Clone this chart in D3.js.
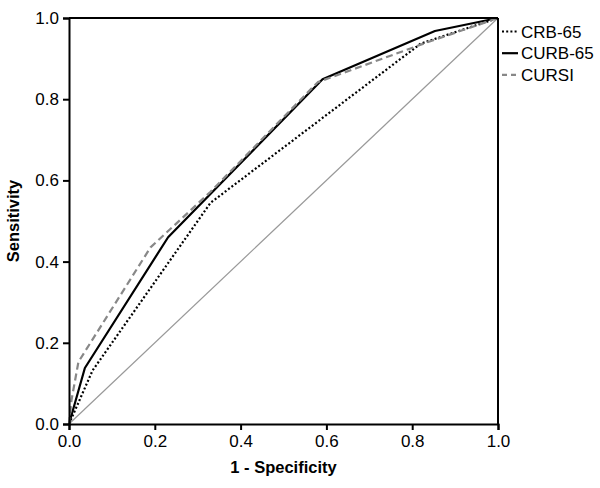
<!DOCTYPE html>
<html><head><meta charset="utf-8">
<script src="https://cdn.jsdelivr.net/npm/d3@7"></script>
<style>body{margin:0;background:#fff}svg{display:block}text{font-family:"Liberation Sans",Arial,sans-serif}</style>
</head><body>
<script>
const ticks = [0, 0.2, 0.4, 0.6, 0.8, 1.0];
const seriesNames = ["CRB-65", "CURB-65", "CURSI"];
const crb65 = [[0,0],[0.055,0.132],[0.33,0.545],[0.82,0.937],[1,1]];
const curb65 = [[0,0],[0.037,0.138],[0.231,0.46],[0.591,0.849],[0.853,0.968],[1,1]];
const cursi = [[0,0],[0.006,0.06],[0.022,0.153],[0.19,0.435],[0.33,0.572],[0.58,0.842],[0.835,0.94],[1,1]];
const refLine = [[0,0],[1,1]];

const W = 600, H = 488;
const m = {l:69, r:102, t:18, b:64};
const svg = d3.select("body").append("svg").attr("width", W).attr("height", H);
const x = d3.scaleLinear().domain([0,1]).range([m.l, W - m.r]);
const y = d3.scaleLinear().domain([0,1]).range([H - m.b, m.t]);
const line = d3.line().x(d => x(d[0])).y(d => y(d[1]));

// reference diagonal
svg.append("path").datum(refLine).attr("d", line).attr("fill","none").attr("stroke","#999").attr("stroke-width",1.2);

const styles = {
  "CRB-65": {data: crb65, color:"#000", dash:"2,2.2", w:2.2},
  "CURB-65": {data: curb65, color:"#000", dash:null, w:2.2},
  "CURSI": {data: cursi, color:"#888", dash:"7,4", w:2.2}
};
seriesNames.forEach(n => {
  const s = styles[n];
  svg.append("path").datum(s.data).attr("d", line).attr("fill","none")
    .attr("stroke", s.color).attr("stroke-width", s.w)
    .attr("stroke-dasharray", s.dash).attr("stroke-linejoin","round");
});

// box top/right
svg.append("line").attr("x1", x(0)).attr("x2", x(1)).attr("y1", y(1)).attr("y2", y(1)).attr("stroke","#000").attr("stroke-width",2);
svg.append("line").attr("x1", x(1)).attr("x2", x(1)).attr("y1", y(0)).attr("y2", y(1)).attr("stroke","#000").attr("stroke-width",2);

const fmt = d3.format(".1f");
const gx = svg.append("g").attr("transform", `translate(0,${y(0)})`)
  .call(d3.axisBottom(x).tickValues(ticks).tickFormat(fmt).tickSize(6).tickPadding(5));
const gy = svg.append("g").attr("transform", `translate(${x(0)},0)`)
  .call(d3.axisLeft(y).tickValues(ticks).tickFormat(fmt).tickSize(6).tickPadding(4));
[gx, gy].forEach(g => {
  g.select(".domain").attr("stroke","#000").attr("stroke-width",2);
  g.selectAll(".tick line").attr("stroke","#000").attr("stroke-width",2);
  g.selectAll(".tick text").attr("fill","#000").style("font-size","17px").style("font-family","'Liberation Sans', Arial, sans-serif");
});

svg.append("text").attr("x", (x(0)+x(1))/2).attr("y", 473).attr("text-anchor","middle")
  .style("font-size","16.5px").style("font-weight","bold").text("1 - Specificity");
svg.append("text").attr("transform", `translate(19,${(y(0)+y(1))/2}) rotate(-90)`).attr("text-anchor","middle")
  .style("font-size","16.5px").style("font-weight","bold").text("Sensitivity");

// legend
const lg = svg.append("g");
seriesNames.forEach((n, i) => {
  const s = styles[n];
  const yy = 31.5 + i * 21.7;
  lg.append("line").attr("x1", 502).attr("x2", 518).attr("y1", yy).attr("y2", yy)
    .attr("stroke", s.color).attr("stroke-width", s.w).attr("stroke-dasharray", n === "CURSI" ? "5,4" : s.dash);
  lg.append("text").attr("x", 521).attr("y", yy).attr("dy","0.36em").style("font-size","17px").text(n);
});
</script>
</body></html>
